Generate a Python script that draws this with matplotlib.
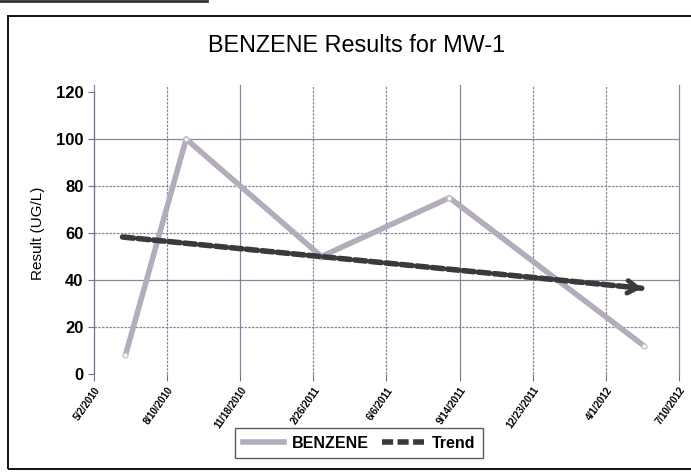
import datetime as dt

import matplotlib

matplotlib.use("Agg")
import matplotlib.pyplot as plt
from matplotlib.lines import Line2D
from matplotlib.patches import Rectangle

# sample dates and benzene results (UG/L)
sample_dates = [
    dt.date(2010, 6, 14),
    dt.date(2010, 9, 5),
    dt.date(2011, 3, 9),
    dt.date(2011, 8, 31),
    dt.date(2012, 5, 23),
]
benzene = [8, 100, 50, 75, 12]

# trend line end points (first / last sample)
trend_dates = [dt.date(2010, 6, 10), dt.date(2012, 5, 20)]
trend_values = [58.3, 36.5]

# x ticks every 100 days
tick_dates = [
    dt.date(2010, 5, 2),
    dt.date(2010, 8, 10),
    dt.date(2010, 11, 18),
    dt.date(2011, 2, 26),
    dt.date(2011, 6, 6),
    dt.date(2011, 9, 14),
    dt.date(2011, 12, 23),
    dt.date(2012, 4, 1),
    dt.date(2012, 7, 10),
]
tick_labels = [f"{d.month}/{d.day}/{d.year}" for d in tick_dates]
y_ticks = [0, 20, 40, 60, 80, 100, 120]

plt.rcParams["font.family"] = ["Liberation Sans", "DejaVu Sans"]

fig = plt.figure(figsize=(6.91, 4.72), dpi=100)
fig.patch.set_facecolor("white")

# outer frame of the scanned chart
fig.patches.append(Rectangle((8 / 691, 1 - 469 / 472), 0.995, (469 - 16) / 472,
                             transform=fig.transFigure, fill=False,
                             edgecolor="#111111", linewidth=1.4))
fig.lines.append(Line2D([0, 0.3], [0.998, 0.998], transform=fig.transFigure,
                        color="#333333", linewidth=2))

ax = fig.add_axes([94 / 691, 1 - 374 / 472, (679 - 94) / 691, (374 - 92) / 472])

grid_col = "#6e7490"
solid_v = {0, 2, 5, 8}
for i, d in enumerate(tick_dates):
    ax.plot([d, d], [0, 123], color=grid_col, linewidth=0.9,
            linestyle="-" if i in solid_v else (0, (2, 1)), alpha=0.85, zorder=1, clip_on=False)
for v in y_ticks[1:-1]:
    ax.axhline(v, color=grid_col, linewidth=0.9, linestyle="-" if v in (40, 100) else (0, (2, 1)),
               alpha=0.85, zorder=1)

ax.plot(sample_dates, benzene, color="#b4acbc", linewidth=4, solid_capstyle="round",
        marker="o", markersize=3.5, markerfacecolor="white", markeredgecolor="#c8c0d0",
        zorder=3)

trend_style = (0, (2.0, 0.8))
ax.plot(trend_dates, trend_values, color="#3a3a3a", linewidth=4, linestyle=trend_style,
        dash_capstyle="round", zorder=4)
ax.annotate("", xy=(trend_dates[1], trend_values[1]),
            xytext=(trend_dates[1] - dt.timedelta(days=15), trend_values[1] + 0.46),
            arrowprops=dict(arrowstyle="->,head_length=0.7,head_width=0.45", color="#3a3a3a",
                            linewidth=3.5, shrinkA=0, shrinkB=0),
            zorder=4)

ax.set_xlim(tick_dates[0], tick_dates[-1])
ax.set_ylim(0, 120)
ax.set_xticks(tick_dates)
ax.set_xticklabels(tick_labels, rotation=55, ha="right", rotation_mode="anchor",
                   fontsize=7, fontweight="bold")
ax.set_yticks(y_ticks)
ax.tick_params(axis="y", labelsize=12, length=4, color=grid_col)
for lbl in ax.get_yticklabels():
    lbl.set_fontweight("bold")
ax.tick_params(axis="x", length=5, color=grid_col, pad=3)
for s in ("top", "right", "bottom"):
    ax.spines[s].set_visible(False)
ax.spines["left"].set_color(grid_col)

ax.set_ylabel("Result (UG/L)", fontsize=11, labelpad=8)
fig.text(357 / 691, 1 - 45 / 472, "BENZENE Results for MW-1", ha="center", va="center",
         fontsize=16.8)

handles = [
    Line2D([], [], color="#b4acbc", linewidth=4),
    Line2D([], [], color="#3a3a3a", linewidth=4, linestyle=trend_style),
]
leg = fig.legend(handles, ["BENZENE", "Trend"], loc="center", bbox_to_anchor=(359 / 691, 1 - 443 / 472),
                 ncol=2, frameon=True, fancybox=False, fontsize=11.5, handlelength=2.6,
                 columnspacing=0.8, handletextpad=0.5, borderpad=0.5)
leg.get_frame().set_edgecolor("#333333")
leg.get_frame().set_linewidth(1.0)
for t in leg.get_texts():
    t.set_fontweight("bold")

fig.savefig("out.png", dpi=100)
